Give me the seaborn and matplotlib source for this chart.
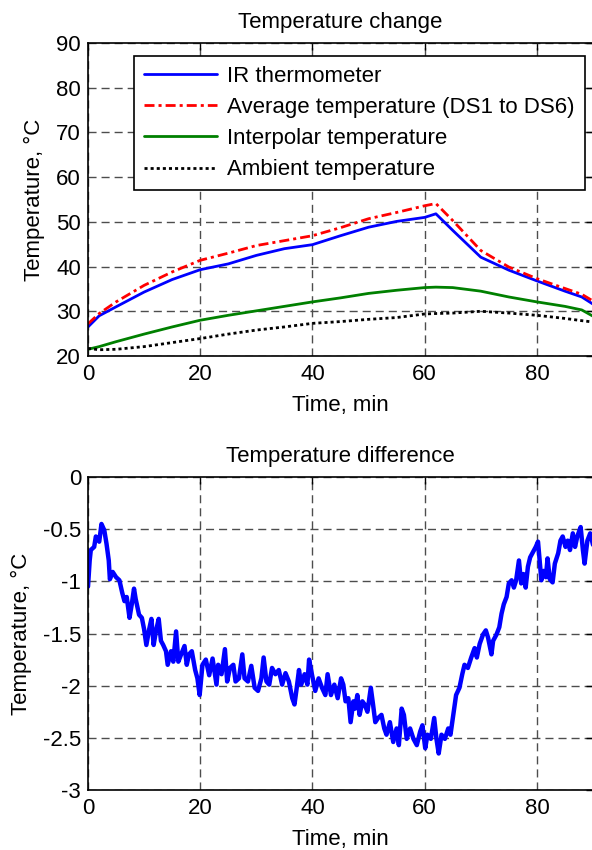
import matplotlib
matplotlib.use("Agg")
import matplotlib.pyplot as plt
import seaborn as sns
import pandas as pd

# ---------------- data ----------------
time_top = [0, 2, 5, 10, 15, 20, 25, 30, 35, 40, 45, 50, 55, 60, 62, 65, 70, 75, 80, 85, 88, 90]
ir_thermo = [26.5, 29.0, 31.0, 34.3, 37.1, 39.3, 40.6, 42.5, 44.0, 44.9, 46.9, 48.8, 50.1, 51.0, 51.8,
             48.1, 42.1, 39.2, 36.8, 34.5, 33.2, 31.6]
avg_temp = [27.2, 29.5, 32.1, 35.8, 38.8, 41.4, 43.0, 44.7, 45.8, 46.9, 48.7, 50.7, 52.1, 53.6, 54.1,
            50.3, 43.6, 39.9, 37.3, 35.1, 33.8, 32.3]
interpolar = [21.5, 22.1, 23.2, 24.9, 26.5, 28.0, 29.1, 30.1, 31.1, 32.1, 33.0, 34.0, 34.7, 35.3, 35.4,
              35.3, 34.5, 33.2, 32.1, 31.1, 30.3, 28.9]
ambient = [21.7, 21.4, 21.5, 22.1, 23.0, 23.9, 24.9, 25.8, 26.5, 27.3, 27.7, 28.2, 28.6, 29.4, 29.5,
           29.6, 30.0, 29.6, 29.1, 28.4, 27.9, 27.6]
legend_labels = ["IR thermometer", "Average temperature (DS1 to DS6)",
                 "Interpolar temperature", "Ambient temperature"]

time_diff = [0.0, 0.3, 0.5, 1.1, 1.4, 2.0, 2.4, 2.9, 3.3, 3.7, 3.9, 4.4, 5.0, 5.6, 6.1, 6.5, 6.9, 7.4,
             7.8, 8.2, 8.5, 9.1, 9.6, 10.0, 10.4, 10.9, 11.3, 11.7, 12.1, 12.6, 13.0, 13.4, 13.9, 14.2,
             14.8, 15.2, 15.7, 16.1, 16.6, 17.2, 17.6, 18.0, 18.5, 19.1, 19.5, 19.9, 20.4, 21.0, 21.6,
             22.2, 22.9, 23.2, 23.8, 24.4, 24.8, 25.3, 25.9, 26.3, 26.9, 27.5, 27.9, 28.5, 29.1, 29.7,
             30.3, 30.9, 31.3, 31.8, 32.3, 32.8, 33.4, 34.0, 34.6, 35.2, 35.8, 36.4, 36.8, 37.2, 37.6,
             38.0, 38.6, 39.1, 39.4, 39.9, 40.5, 41.1, 41.7, 42.3, 42.7, 43.3, 43.9, 44.5, 45.1, 45.5,
             45.9, 46.4, 46.8, 47.3, 47.6, 48.0, 48.4, 48.9, 49.3, 49.8, 50.4, 50.8, 51.2, 51.7, 52.3,
             52.8, 53.2, 53.8, 54.4, 55.0, 55.4, 55.9, 56.3, 56.8, 57.4, 58.0, 58.6, 59.2, 59.6, 60.1,
             60.5, 61.1, 61.7, 62.1, 62.5, 63.0, 63.6, 64.2, 64.6, 65.1, 65.6, 66.2, 66.7, 67.1, 67.7,
             68.3, 68.9, 69.3, 69.8, 70.4, 70.9, 71.3, 71.9, 72.2, 72.8, 73.3, 73.7, 74.1, 74.6, 75.0,
             75.5, 75.9, 76.3, 76.8, 77.2, 77.6, 78.0, 78.4, 78.8, 79.3, 79.8, 80.2, 80.5, 80.8, 81.2,
             81.6, 81.9, 82.3, 82.8, 83.2, 83.8, 84.2, 84.6, 85.1, 85.5, 85.9, 86.4, 86.8, 87.2, 87.8,
             88.2, 88.5, 89.0, 89.5, 90.0]
temp_diff = [-1.05, -0.80, -0.70, -0.67, -0.57, -0.62, -0.45, -0.51, -0.64, -0.80, -0.98, -0.91, -0.96,
             -0.99, -1.11, -1.19, -1.15, -1.35, -1.22, -1.07, -1.17, -1.32, -1.35, -1.46, -1.61, -1.46,
             -1.36, -1.61, -1.48, -1.36, -1.57, -1.61, -1.67, -1.80, -1.67, -1.77, -1.48, -1.77, -1.70,
             -1.62, -1.80, -1.70, -1.67, -1.85, -1.93, -2.09, -1.80, -1.75, -1.90, -1.74,
             -1.99, -1.80, -1.89, -1.65, -1.96, -1.83, -1.80, -1.96, -1.93, -1.70, -1.93, -1.96, -1.81,
             -2.02, -2.05, -1.93, -1.73, -1.96, -1.99, -1.83, -1.89, -1.85, -1.99, -1.88, -1.96, -2.12,
             -2.18, -2.02, -1.85, -1.99, -1.89, -1.99, -1.75, -1.89, -2.05, -1.93, -2.02, -2.09, -1.89,
             -2.09, -1.99, -2.12,
             -1.93, -1.99, -2.15, -2.12, -2.35, -2.15, -2.22, -2.09, -2.28, -2.15, -2.18, -2.25, -2.02,
             -2.18, -2.35, -2.31, -2.28, -2.41, -2.47, -2.35, -2.54, -2.41, -2.57, -2.22, -2.28, -2.51,
             -2.41, -2.51, -2.57, -2.44, -2.38, -2.60, -2.47, -2.51, -2.31, -2.51, -2.65, -2.47, -2.51,
             -2.41, -2.47, -2.28, -2.09, -2.02,
             -1.89, -1.80, -1.83, -1.73, -1.64, -1.73, -1.60, -1.51, -1.47, -1.54, -1.70, -1.57, -1.51,
             -1.44, -1.31, -1.22, -1.15, -1.02, -0.99, -1.06, -0.99, -0.80, -1.02, -0.93, -1.06, -0.86,
             -0.77, -0.72, -0.67, -0.62, -0.80, -0.99, -0.90, -0.96, -0.78, -0.98, -1.01, -0.83, -0.73,
             -0.61, -0.57, -0.67, -0.61, -0.70, -0.54, -0.67, -0.57, -0.48, -0.70, -0.83, -0.61, -0.54,
             -0.65]

top_yticks = [20, 30, 40, 50, 60, 70, 80, 90]
bot_yticks = [-3, -2.5, -2, -1.5, -1, -0.5, 0]
bot_yticklabels = ["-3", "-2.5", "-2", "-1.5", "-1", "-0.5", "0"]
xticks = [0, 20, 40, 60, 80]

# ---------------- style ----------------
sns.set_style("white")
plt.rcParams["font.family"] = ["Liberation Sans", "DejaVu Sans"]
plt.rcParams["lines.scale_dashes"] = False
for k in ["text.color", "axes.labelcolor", "xtick.color", "ytick.color", "axes.edgecolor"]:
    plt.rcParams[k] = "black"
FS = 16

fig = plt.figure(figsize=(5.92, 8.5), dpi=100)
W, H = 592.0, 850.0
ax1 = fig.add_axes([88 / W, 1 - 356 / H, 505 / W, 313 / H])
ax2 = fig.add_axes([88 / W, 1 - 790 / H, 505 / W, 313 / H])

df_top = pd.DataFrame({"t": time_top, "ir": ir_thermo, "avg": avg_temp,
                       "inter": interpolar, "amb": ambient})
df_bot = pd.DataFrame({"t": time_diff, "d": temp_diff})

LW = 2.0
sns.lineplot(data=df_top, x="t", y="ir", ax=ax1, color=(0, 0, 1), lw=LW,
             label=legend_labels[0], estimator=None, sort=False)
sns.lineplot(data=df_top, x="t", y="avg", ax=ax1, color=(1, 0, 0), lw=LW,
             label=legend_labels[1], estimator=None, sort=False)
sns.lineplot(data=df_top, x="t", y="inter", ax=ax1, color=(0, 0.5, 0), lw=LW,
             label=legend_labels[2], estimator=None, sort=False)
sns.lineplot(data=df_top, x="t", y="amb", ax=ax1, color="black", lw=LW,
             label=legend_labels[3], estimator=None, sort=False)
lines = ax1.get_lines()
lines[1].set_linestyle((0, (7.2, 2.9, 2.2, 2.9)))
lines[3].set_linestyle((0, (2.2, 2.2)))

sns.lineplot(data=df_bot, x="t", y="d", ax=ax2, color=(0, 0, 1), lw=3.2,
             estimator=None, sort=False)


def style_axes(ax, yticks, yticklabels, title):
    ax.set_xlim(0, 90)
    ax.set_xticks(xticks)
    ax.set_yticks(yticks)
    if yticklabels is not None:
        ax.set_yticklabels(yticklabels)
    ax.tick_params(axis="both", which="both", direction="in", length=5, width=1.0,
                   top=True, right=True, labelsize=FS, color="black", labelcolor="black")
    ax.tick_params(axis="y", pad=5)
    ax.tick_params(axis="x", pad=6)
    ax.grid(True, color="#4d4d4d", lw=1.0, linestyle=(0, (5.8, 3.6)))
    for s in ax.spines.values():
        s.set_visible(True)
        s.set_color("black")
        s.set_linewidth(1.2)
    ax.set_xlabel("Time, min", fontsize=FS, labelpad=7, color="black")
    ax.set_ylabel("Temperature, °C", fontsize=FS, labelpad=8, color="black")
    ax.set_title(title, fontsize=FS, pad=10.5, color="black")


style_axes(ax1, top_yticks, None, "Temperature change")
ax1.set_ylim(20, 90)
style_axes(ax2, bot_yticks, bot_yticklabels, "Temperature difference")
ax2.set_ylim(-3, 0)

leg = ax1.legend(loc="upper left", bbox_to_anchor=((134 - 88) / 505, (356 - 56) / 313),
                 borderaxespad=0, fontsize=FS, frameon=True, fancybox=False, framealpha=1,
                 edgecolor="black", handlelength=3.3, handletextpad=0.45, labelspacing=0.455,
                 borderpad=0.45)
leg.get_frame().set_linewidth(1.2)
for txt in leg.get_texts():
    txt.set_color("black")

fig.savefig("out.png", dpi=100)
